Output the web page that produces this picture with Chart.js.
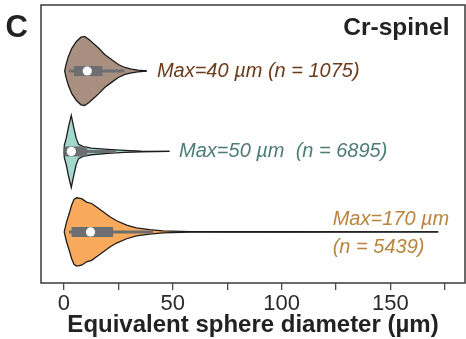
<!DOCTYPE html>
<html>
<head>
<meta charset="utf-8">
<script src="https://cdn.jsdelivr.net/npm/chart.js@4/dist/chart.umd.min.js"></script>
<style>
  html, body { margin: 0; padding: 0; background: #fff; }
  #wrap { width: 466px; height: 339px; position: relative; }
</style>
</head>
<body>
<div id="wrap"><canvas id="c" width="466" height="339"></canvas></div>
<script>
// ---------------- data ----------------
const panelLetter = 'C';
const mineral = 'Cr-spinel';
const xTitle = 'Equivalent sphere diameter (µm)';
const tickValues = [0, 25, 50, 75, 100, 125, 150, 175];
const labelledTicks = [0, 50, 100, 150];

// group row positions (top to bottom)
const groupPos = [2, 1, 0];
const groupMax = [40, 50, 170];
const groupN = [1075, 6895, 5439];

// violin outlines: x (µm) and relative half-width (density)
const topX = [0.3, 1.0, 2.0, 3.6, 5.7, 7.8, 9.5, 11.5, 13.8, 16.0, 18.7, 22.0, 25.0, 28.0, 31.0, 34.0, 38.0];
const topD = [0, 0.19, 0.40, 0.63, 0.82, 0.94, 0.96, 0.875, 0.75, 0.63, 0.46, 0.31, 0.18, 0.097, 0.05, 0.022, 0];

const midX = [0, 0.15, 1.05, 2.1, 3.35, 4.4, 5.6, 6.7, 8.7, 12.5, 20.2, 27.8, 35.5, 48.5];
const midD = [0, 0.17, 0.37, 0.69, 1.0, 0.69, 0.37, 0.2, 0.14, 0.092, 0.056, 0.028, 0.008, 0];

const botX = [0.1, 1.2, 2.4, 3.5, 4.6, 5.8, 8.1, 10.4, 12.7, 15.0, 18.0, 21.1, 24.2, 28.8, 33.3, 39.4, 45.5, 57.8, 100, 172];
const botD = [0, 0.28, 0.51, 0.74, 0.90, 0.95, 0.925, 0.83, 0.79, 0.69, 0.56, 0.42, 0.31, 0.19, 0.11, 0.064, 0.028, 0.008, 0.004, 0];

// box plot statistics per group: whisker low/high, q1, q3, median
const whiskerLo = [2.3, 0.3, 2.3];
const whiskerHi = [27.8, 24, 41];
const q1 = [4.6, 0.3, 3.5];
const q3 = [17.6, 10.7, 22.6];
const median = [10.7, 3.4, 12.2];

// annotation text anchors (data units)
const noteX = [42.7, 52.9, 123.5, 123.5];
const noteY = [2, 1, 0.16, -0.19];

// ---------------- styles ----------------
const fills = ['#a98f80', '#a3d9cc', '#f8a95b'];
const noteColors = ['#6b3a18', '#4c7d72', '#b9843e', '#b9843e'];
const outline = '#1c1c1c';
const boxGray = '#6d6e71';
const halfWidthUnits = 0.447;
const FONT = "'Liberation Sans', Arial, Helvetica, sans-serif";

const noteTexts = [
  'Max=' + groupMax[0] + ' µm (n = ' + groupN[0] + ')',
  'Max=' + groupMax[1] + ' µm  (n = ' + groupN[1] + ')',
  'Max=' + groupMax[2] + ' µm',
  '(n = ' + groupN[2] + ')'
];

const violins = [[topX, topD], [midX, midD], [botX, botD]];

const datasets = [];
groupPos.forEach((p, i) => {
  datasets.push({
    data: [{x: median[i], y: p}],
    showLine: false, pointRadius: 4.6, pointBackgroundColor: '#ffffff',
    pointBorderWidth: 0, order: 0
  });
  datasets.push({
    data: [{x: q1[i], y: p}, {x: q3[i], y: p}],
    borderColor: boxGray, borderWidth: 10, borderCapStyle: 'butt',
    pointRadius: 0, order: 1, fill: false
  });
  datasets.push({
    data: [{x: whiskerLo[i], y: p}, {x: whiskerHi[i], y: p}],
    borderColor: boxGray, borderWidth: 3, borderCapStyle: 'butt',
    pointRadius: 0, order: 2, fill: false
  });
});
violins.forEach(([xs, ds], i) => {
  const p = groupPos[i];
  datasets.push({
    data: xs.map((v, k) => ({x: v, y: p + ds[k] * halfWidthUnits})),
    borderColor: outline, borderWidth: 1.3, pointRadius: 0, fill: false, order: 3
  });
  datasets.push({
    data: xs.map((v, k) => ({x: v, y: p - ds[k] * halfWidthUnits})),
    borderColor: outline, borderWidth: 1.3, pointRadius: 0,
    fill: '-1', backgroundColor: fills[i], order: 3
  });
});

const decor = {
  id: 'decor',
  afterDatasetsDraw(chart) {
    const {ctx, chartArea: a, scales: {x, y}} = chart;
    ctx.save();
    ctx.strokeStyle = '#3a3a3a';
    ctx.lineWidth = 1.5;
    ctx.strokeRect(a.left, a.top, a.right - a.left, a.bottom - a.top);
    ctx.font = 'italic 20px ' + FONT;
    ctx.textAlign = 'left';
    ctx.textBaseline = 'middle';
    noteTexts.forEach((t, i) => {
      ctx.fillStyle = noteColors[i];
      ctx.fillText(t, x.getPixelForValue(noteX[i]), y.getPixelForValue(noteY[i]));
    });
    ctx.font = 'bold 24.5px ' + FONT;
    ctx.fillStyle = '#222222';
    ctx.textAlign = 'right';
    ctx.textBaseline = 'alphabetic';
    ctx.fillText(mineral, a.right - 15.5, a.top + 30);
    ctx.font = 'bold 31px ' + FONT;
    ctx.textAlign = 'left';
    ctx.fillText(panelLetter, a.left - 35.5, a.top + 32);
    ctx.restore();
  }
};

new Chart(document.getElementById('c'), {
  type: 'line',
  data: {datasets},
  options: {
    responsive: false,
    animation: false,
    events: [],
    layout: {autoPadding: false, padding: {left: 0, top: 5, right: 1, bottom: 0}},
    elements: {line: {tension: 0}},
    plugins: {legend: {display: false}, tooltip: {enabled: false}},
    scales: {
      x: {
        type: 'linear',
        min: -10.56,
        max: 184.3,
        afterBuildTicks: s => { s.ticks = tickValues.map(v => ({value: v})); },
        afterFit: s => { s.height = 56; },
        border: {display: false},
        grid: {drawOnChartArea: false, drawTicks: true, tickLength: 7, color: '#4a4a4a', lineWidth: 1.3},
        ticks: {
          color: '#2a2a2a', padding: 1,
          font: {family: FONT, size: 22},
          callback: v => labelledTicks.includes(v) ? String(v) : ''
        },
        title: {
          display: true, text: xTitle, color: '#222222',
          font: {family: FONT, size: 24, weight: 'bold'},
          padding: {top: 0, bottom: -1}
        }
      },
      y: {
        type: 'linear',
        min: -0.635,
        max: 2.82,
        afterFit: s => { s.width = 41; },
        border: {display: false},
        grid: {display: false},
        ticks: {display: false}
      }
    }
  },
  plugins: [decor]
});
</script>
</body>
</html>
